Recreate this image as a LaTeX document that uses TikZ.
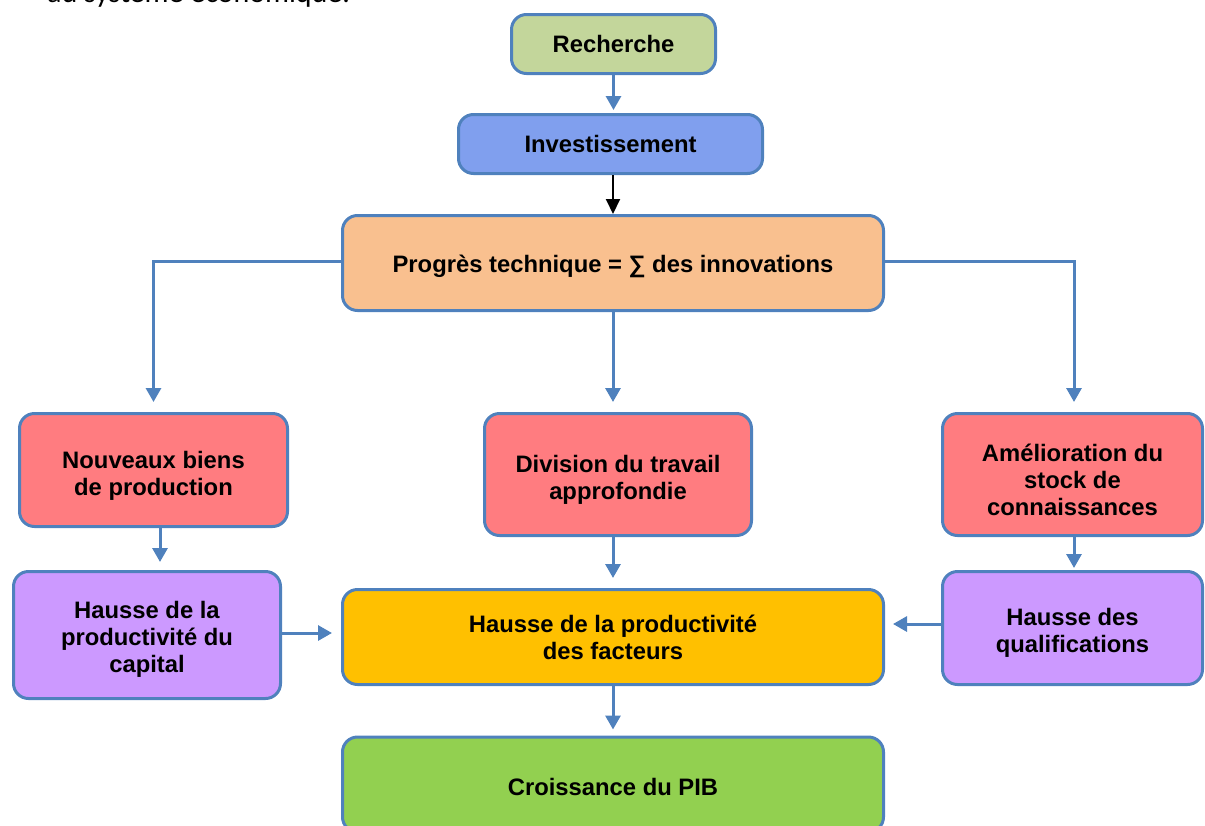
\documentclass[tikz,border=0pt]{standalone}
\usepackage{fontspec}
\setmainfont{Liberation Sans}
\newfontfamily\bodyfont{Carlito}
\usetikzlibrary{arrows.meta}
\definecolor{edgeblue}{RGB}{79,129,189}
\definecolor{cGreenPale}{RGB}{195,214,155}
\definecolor{cBlue}{RGB}{128,159,238}
\definecolor{cPeach}{RGB}{249,192,143}
\definecolor{cRed}{RGB}{255,124,128}
\definecolor{cViolet}{RGB}{204,153,255}
\definecolor{cAmber}{RGB}{255,192,0}
\definecolor{cGreen}{RGB}{146,208,80}
% centred lines of box text, set a little lower than the box centre
\newcommand\boxlines[2]{\raisebox{-#1}[\height][\depth]{\begin{tabular}{@{}c@{}}#2\end{tabular}}}
\tikzset{
  box/.style={draw=edgeblue, line width=3pt, rounded corners=15pt, align=center,
    inner sep=0pt, font=\fontsize{23.8}{27}\selectfont\bfseries},
  arr/.style={draw=edgeblue, line width=3pt,
    -{Triangle[width=15pt,length=14pt]}},
  blackarr/.style={draw=black, line width=2pt,
    -{Triangle[width=14pt,length=15pt]}},
}
\begin{document}
\begin{tikzpicture}[x=1pt,y=-1pt]
\useasboundingbox (0,0) rectangle (1205,825);
\clip (0,0) rectangle (1205,825);

% line of running text above the chart
\node[anchor=base west, inner sep=0pt, font=\bodyfont\fontsize{30}{36}\selectfont]
  (intro) at (47,2.5) {au système économique.};

% boxes
\node[box, fill=cGreenPale, minimum width=204pt, minimum height=59pt] (rech) at (613.5,44) {Recherche};
\node[box, fill=cBlue, minimum width=304pt, minimum height=59pt] (inv) at (610.5,144) {Investissement};
\node[box, fill=cPeach, minimum width=541pt, minimum height=95pt] (prog) at (613,263) {\boxlines{4pt}{Progrès technique = ∑ des innovations}};
\node[box, fill=cRed, minimum width=268pt, minimum height=113pt] (nouv) at (153.5,470) {\boxlines{7pt}{Nouveaux biens\\de production}};
\node[box, fill=cRed, minimum width=267pt, minimum height=122pt] (div) at (618,474.5) {\boxlines{6pt}{Division du travail\\approfondie}};
\node[box, fill=cRed, minimum width=260pt, minimum height=122pt] (amel) at (1072.5,474.5) {\boxlines{9pt}{Amélioration du\\stock de\\connaissances}};
\node[box, fill=cViolet, minimum width=267pt, minimum height=127pt] (cap) at (147,635) {\boxlines{5pt}{Hausse de la\\productivité du\\capital}};
\node[box, fill=cAmber, minimum width=541pt, minimum height=95pt] (prod) at (613,637) {\boxlines{4pt}{Hausse de la productivité\\des facteurs}};
\node[box, fill=cViolet, minimum width=260pt, minimum height=113pt] (qual) at (1072.5,628) {\boxlines{6pt}{Hausse des\\qualifications}};
\node[box, fill=cGreen, minimum width=541pt, minimum height=95pt] (pib) at (613,784.5) {\boxlines{6pt}{Croissance du PIB}};

% connectors
\draw[arr, shorten >=3pt] (rech.south) -- (rech.south |- inv.north);
\draw[blackarr] (inv.south -| prog.north) -- (prog.north);
\draw[arr, shorten >=10pt] ([yshift=2pt]prog.west) -| (nouv.north);
\draw[arr, shorten >=10pt] (prog.south) -- (prog.south |- div.north);
\draw[arr, shorten >=10pt] ([yshift=2pt]prog.east) -| ([xshift=1.5pt]amel.north);
\draw[arr, shorten >=8pt] ([xshift=6.5pt]nouv.south) -- ([xshift=6.5pt]nouv.south |- cap.north);
\draw[arr, shorten >=10pt] (prod.north |- div.south) -- (prod.north);
\draw[arr, shorten >=2pt] ([xshift=1.5pt]amel.south) -- ([xshift=1.5pt]amel.south |- qual.north);
\draw[arr, shorten >=9pt] ([yshift=2pt]cap.east) -- ([yshift=2pt]cap.east -| prod.west);
\draw[arr, shorten >=8pt] ([yshift=4pt]qual.west) -- ([yshift=4pt]qual.west -| prod.east);
\draw[arr, shorten >=6pt] (prod.south) -- (pib.north);
\end{tikzpicture}
\end{document}
